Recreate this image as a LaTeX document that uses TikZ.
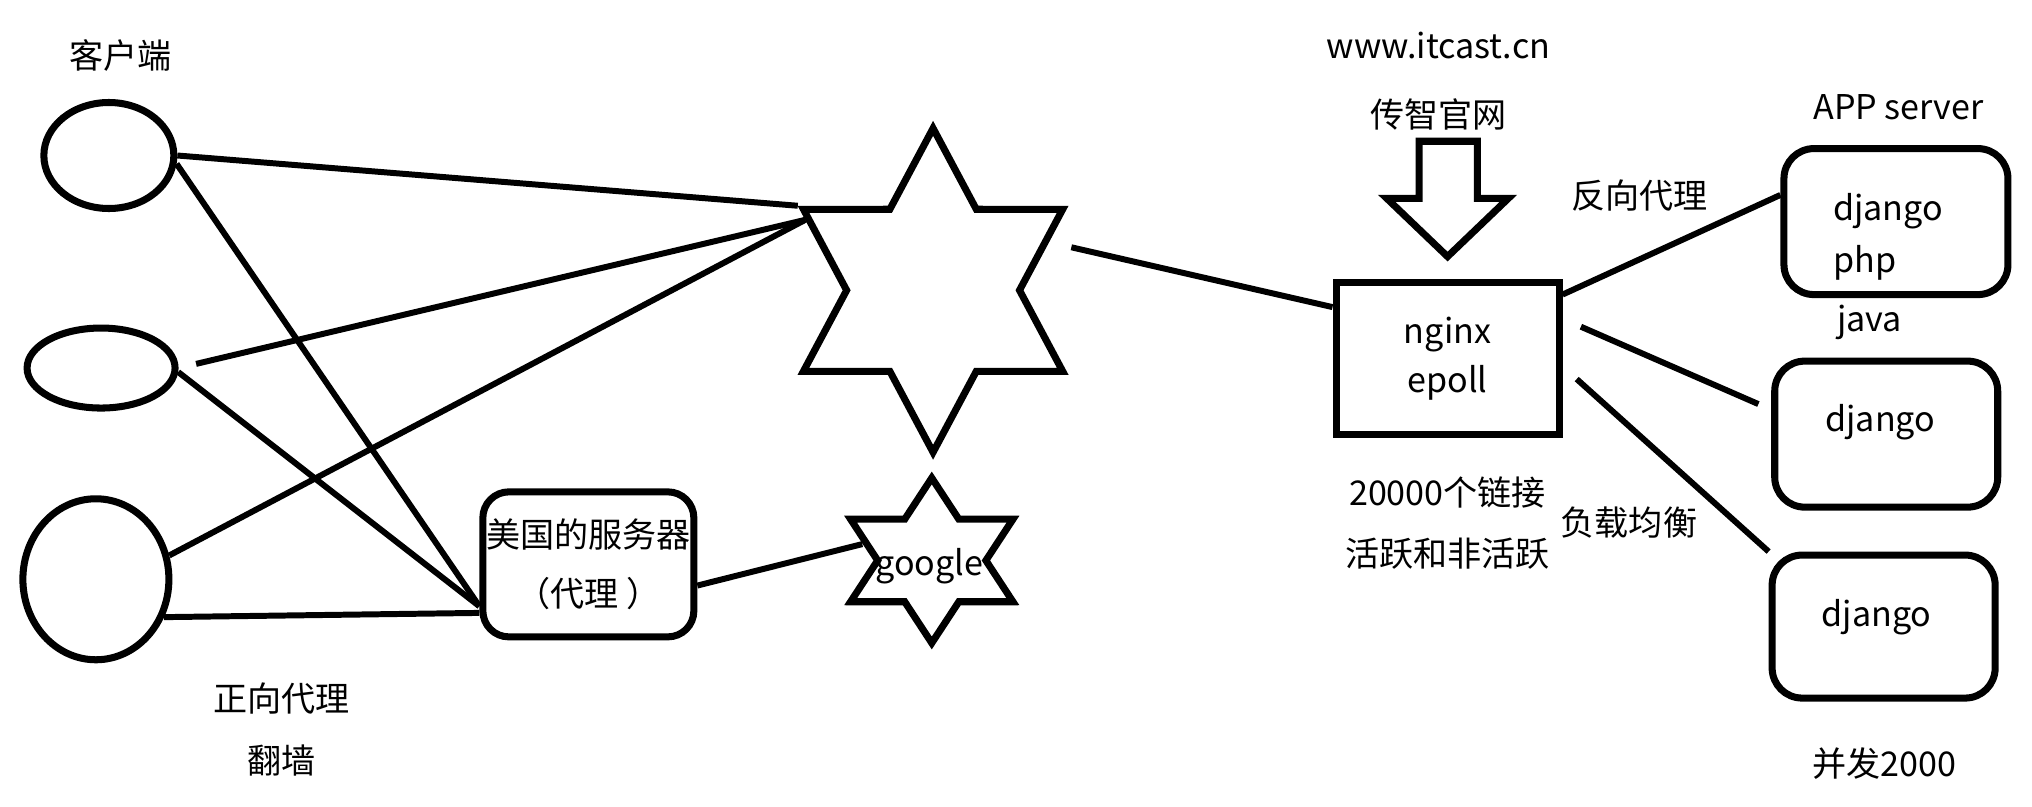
\documentclass[tikz,border=0pt]{standalone}
\usepackage{fontspec}
\setmainfont{Noto Sans CJK SC}
\usetikzlibrary{shapes.geometric}

\begin{document}
\begin{tikzpicture}[x=0.1296mm, y=-0.1296mm, font=\fontsize{9.7}{12}\selectfont,
		shapeline/.style={draw=black, line width=2pt},
		link/.style={draw=black, line width=1.7pt},
		client/.style={shapeline, ellipse, inner sep=0pt},
		hexstar/.style={shapeline, star, star points=6, star point ratio=1.732, inner sep=0pt},
		roundbox/.style={shapeline, rounded corners=3mm, inner sep=0pt, minimum width=22.3mm}]
	\useasboundingbox (0, 0) rectangle (1568, 622);

	% clients on the left
	\node (client) at (93, 43) {客户端};
	\node[client, minimum width=13mm, minimum height=10.6mm] (c1) at (84, 120) {};
	\node[client, minimum width=14.8mm, minimum height=8mm] (c2) at (78, 284) {};
	\node[client, minimum width=14.6mm, minimum height=16.1mm] (c3) at (74, 447) {};
	\node (fwd) at (217, 539) {正向代理};
	\node (wall) at (217, 587) {翻墙};

	% proxy and the two stars
	\node[roundbox, rounded corners=2.6mm, minimum width=21.1mm, minimum height=14.5mm, align=center] (proxy) at (454, 435.5) {美国的服务器\\[5pt]（代理 ）};
	\node[hexstar, minimum size=32.4mm, xscale=0.924] (bigstar) at (720, 224) {};
	\node[hexstar, minimum size=16.5mm, xscale=1.136] (gstar) at (719, 432.5) {};
	\node (gtext) at (717, 437) {google};

	% nginx
	\node (url) at (1110, 35) {www.itcast.cn};
	\node (site) at (1110, 88) {传智官网};
	\draw[shapeline] (1095, 109) -- (1140, 109) -- (1140, 153) -- (1164, 153) -- (1117, 198) -- (1070, 153) -- (1095, 153) -- cycle;
	\node[shapeline, minimum width=22.3mm, minimum height=15.2mm, align=center] (nginx) at (1117, 276.5) {nginx\\[2pt]epoll};
	\node (conn) at (1117, 380) {20000个链接};
	\node (active) at (1117, 427) {活跃和非活跃};
	\node (rev) at (1265, 151) {反向代理};
	\node (lb) at (1257, 403) {负载均衡};

	% app servers
	\node (appsrv) at (1465, 83) {APP server};
	\node[roundbox, minimum width=22.4mm, minimum height=14.6mm] (app1) at (1463, 171) {};
	\node[align=left, anchor=west] (app1txt) at (1405, 183) {django\\[2.7pt]php};
	\node[anchor=west] (java) at (1408, 249) {java};
	\node[roundbox, minimum height=14.6mm] (app2) at (1455.5, 335) {};
	\node (app2txt) at (1451, 326) {django};
	\node[roundbox, minimum height=14.3mm] (app3) at (1453.5, 483.5) {};
	\node (app3txt) at (1448, 476) {django};
	\node (conc) at (1454, 589) {并发2000};

	% connectors
	\draw[link] (c1.east) -- (bigstar.outer point 2);
	\draw[link] (c1.-7) -- (proxy.201);
	\draw[link, shorten <=1.8mm] (c2.east) -- (bigstar.153);
	\draw[link] (c2.-3) -- (proxy.201);
	\draw[link] (c3.18) -- (bigstar.153);
	\draw[link] (c3.-29) -- (proxy.204);
	\draw[link] (proxy.-11) -- (gstar.165);
	\draw[link, shorten <=2.3mm] (bigstar.21) -- (nginx.156);
	\draw[link] (nginx.29) -- (app1.167);
	\draw[link, shorten <=2mm, shorten >=1.4mm] (nginx.19) -- (app2.168);
	\draw[link, shorten <=1.9mm] (nginx.-4) -- (app3.north west);
\end{tikzpicture}
\end{document}
